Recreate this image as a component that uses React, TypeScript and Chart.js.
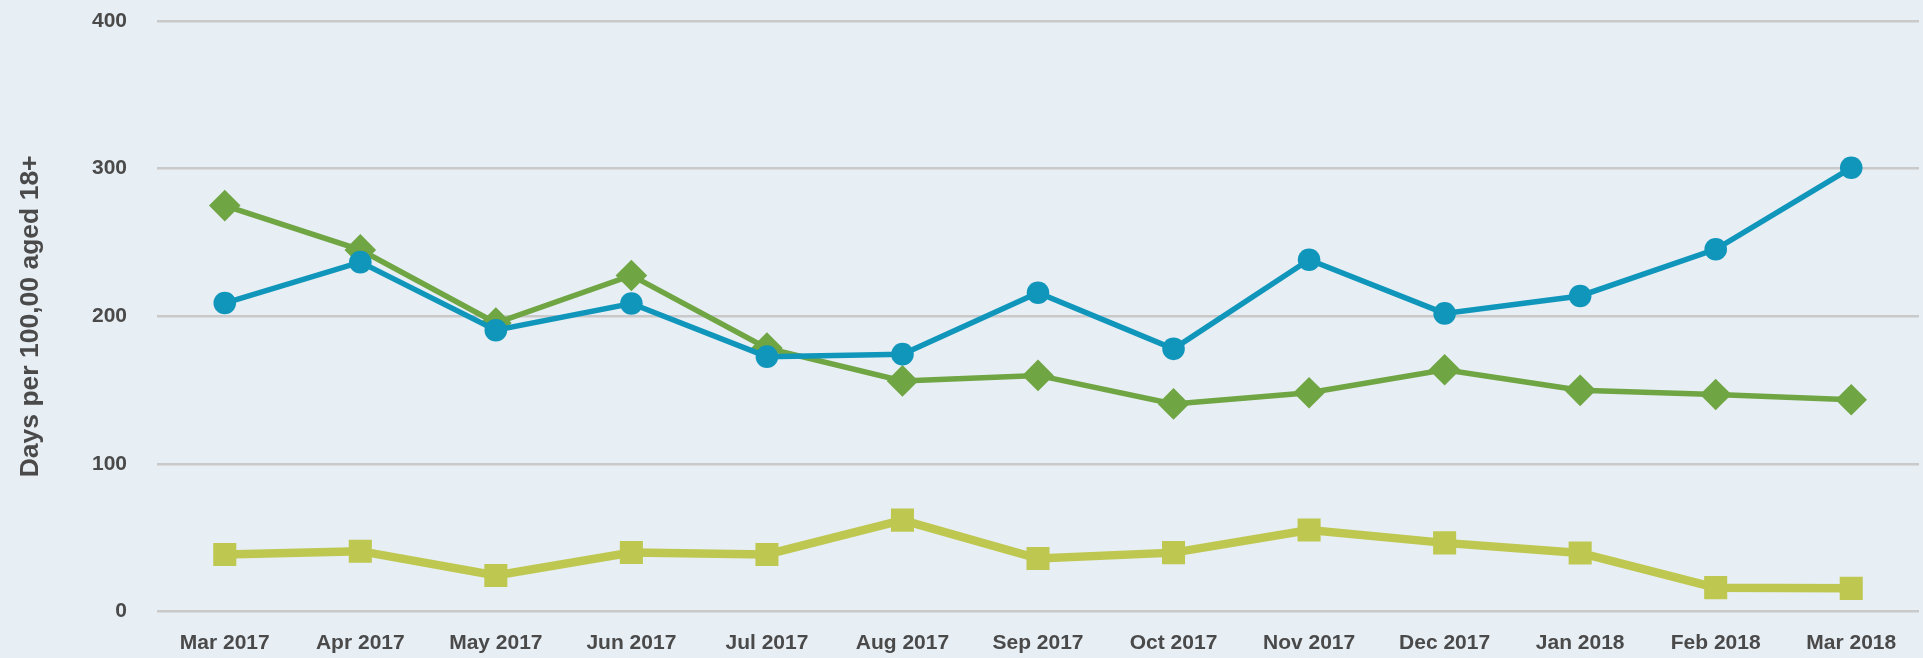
import React, { useEffect, useRef } from 'react';
import { Chart, registerables } from 'chart.js';

Chart.register(...registerables);

const categories = [
  'Mar 2017', 'Apr 2017', 'May 2017', 'Jun 2017', 'Jul 2017', 'Aug 2017', 'Sep 2017',
  'Oct 2017', 'Nov 2017', 'Dec 2017', 'Jan 2018', 'Feb 2018', 'Mar 2018',
];

const seriesBlue = [209, 236.7, 190.6, 208.7, 172.7, 174.4, 216, 178, 238.3, 202, 213.8, 245.4, 300.6];
const seriesGreen = [275, 245, 195.5, 227.7, 178.5, 156.3, 160, 140.7, 148.3, 163.8, 149.9, 147.1, 143.5];
const seriesYellow = [38.8, 41, 24.5, 40.1, 38.8, 62, 36, 40, 55.3, 46.6, 39.8, 16.3, 15.8];

const yTicks = [0, 100, 200, 300, 400];
const yTitle = 'Days per 100,00 aged 18+';

const BG = '#e7eef4';
const TEXT = '#4a4a4a';
const FONT = "'Liberation Sans', Arial, Helvetica, sans-serif";

export default function App() {
  const ref = useRef<HTMLCanvasElement>(null);

  useEffect(() => {
    document.body.style.margin = '0';
    document.body.style.background = BG;
    const chart = new Chart(ref.current as HTMLCanvasElement, {
      type: 'line',
      data: {
        labels: categories,
        datasets: [
          {
            label: 'Blue',
            data: seriesBlue,
            borderColor: '#1096bb',
            backgroundColor: '#1096bb',
            borderWidth: 5.5,
            pointStyle: 'circle',
            pointRadius: 11.3,
            pointHoverRadius: 11.3,
            pointBorderWidth: 0,
            pointBackgroundColor: '#1096bb',
            tension: 0,
          },
          {
            label: 'Green',
            data: seriesGreen,
            borderColor: '#6fa543',
            backgroundColor: '#6fa543',
            borderWidth: 5.5,
            pointStyle: 'rectRot',
            pointRadius: 15.8,
            pointHoverRadius: 15.8,
            pointBorderWidth: 0,
            pointBackgroundColor: '#6fa543',
            tension: 0,
          },
          {
            label: 'Yellow',
            data: seriesYellow,
            borderColor: '#bec850',
            backgroundColor: '#bec850',
            borderWidth: 8.5,
            pointStyle: 'rect',
            pointRadius: 16.3,
            pointHoverRadius: 16.3,
            pointBorderWidth: 0,
            pointBackgroundColor: '#bec850',
            tension: 0,
          },
        ],
      },
      options: {
        responsive: false,
        animation: false,
        events: [],
        layout: { autoPadding: false, padding: { left: 15, right: 4, top: 21, bottom: 2 } },
        plugins: {
          legend: { display: false },
          tooltip: { enabled: false },
        },
        scales: {
          x: {
            offset: true,
            grid: { display: false, drawTicks: false },
            border: { display: false },
            afterFit: (scale: any) => {
              scale.height = 44.3;
              scale.paddingLeft = 0;
              scale.paddingRight = 0;
            },
            ticks: {
              color: TEXT,
              padding: 19,
              maxRotation: 0,
              autoSkip: false,
              font: { family: FONT, size: 21, weight: 'bold' },
            },
          },
          y: {
            min: yTicks[0],
            max: yTicks[yTicks.length - 1],
            grid: { color: '#c9c9c9', lineWidth: 2.5, drawTicks: false },
            border: { display: false },
            afterBuildTicks: (scale: any) => {
              scale.ticks = yTicks.map((v) => ({ value: v }));
            },
            afterFit: (scale: any) => {
              scale.width = 142;
              scale.paddingTop = 0;
              scale.paddingBottom = 0;
            },
            ticks: {
              color: TEXT,
              padding: 30,
              font: { family: FONT, size: 21, weight: 'bold' },
            },
            title: {
              display: true,
              text: yTitle,
              color: TEXT,
              padding: { top: 0, bottom: 16 },
              font: { family: FONT, size: 26.5, weight: 'bold' },
            },
          },
        },
      },
    });
    return () => chart.destroy();
  }, []);

  return (
    <div style={{ width: 1923, height: 658, background: BG }}>
      <canvas ref={ref} width={1923} height={658} style={{ display: 'block' }} />
    </div>
  );
}
